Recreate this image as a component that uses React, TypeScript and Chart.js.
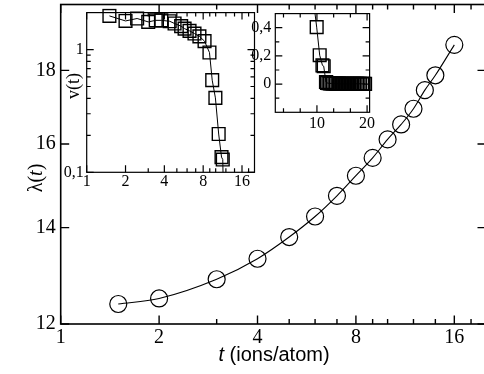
import { useEffect, useRef } from 'react';
import { Chart, registerables } from 'chart.js';

Chart.register(...registerables);

// ---- Main panel: lambda(t) ----
const LAMBDA_T = [1.5, 2, 3, 4, 5, 6, 7, 8, 9, 10, 11, 12, 13, 14, 16];
const LAMBDA = [12.39, 12.5, 12.89, 13.32, 13.79, 14.25, 14.73, 15.21, 15.65, 16.12, 16.51, 16.93, 17.44, 17.86, 18.75];
const MAIN_X_TICKS = [1, 2, 4, 8, 16];
const MAIN_X_MINOR = [3, 5, 6, 7, 9, 10, 12, 14, 18];
const MAIN_Y_TICKS = [12, 14, 16, 18];

// ---- Insets: v(t) ----
const V_T = [
  1.5, 2.0, 2.46, 3.0, 3.43, 3.79, 4.4, 4.8, 5.4, 5.74, 6.27, 6.85, 7.48, 8.2, 8.95, 9.4, 9.95, 10.55, 11.1, 11.35,
  11.8, 12.0, 12.3, 12.6, 12.9, 13.2, 13.5, 13.8, 14.1, 14.4, 14.7, 15.0, 15.3, 15.6, 15.9, 16.2, 16.5, 16.8, 17.1,
  17.4, 17.7, 18.0, 18.3, 18.6, 19.0, 19.3, 19.6,
];
const V = [
  1.88, 1.71, 1.79, 1.68, 1.73, 1.73, 1.7, 1.63, 1.55, 1.48, 1.42, 1.35, 1.28, 1.17, 0.946, 0.563, 0.404, 0.205, 0.133, 0.127,
  0.015, 0.009, 0.006, 0.005, 0.005, 0.004, 0.004, 0.003, 0.003, 0.003, 0.002, 0.002, 0.002, 0.002, 0.002, 0.002, 0.002, 0.002, 0.002,
  0.002, 0.002, 0.002, 0.002, 0.002, 0.002, 0.002, 0.002,
];
const IN1_X_TICKS = [1, 2, 4, 8, 16];
const IN1_X_MINOR = [3, 5, 6, 7, 9, 10, 12, 14, 18];
const IN1_Y_TICKS = [0.1, 1];
const IN1_Y_MINOR = [0.2, 0.3, 0.4, 0.5, 0.6, 0.7, 0.8, 0.9];
const IN2_X_TICKS = [10, 20];
const IN2_X_MINOR = [10 / 3, 20 / 3, 40 / 3, 50 / 3];
const IN2_Y_TICKS = [0, 0.2, 0.4];
const IN2_Y_MINOR = [-0.1, 0.1, 0.3];

const SERIF = '"Liberation Serif", "Times New Roman", serif';
const SANS = '"Liberation Sans", Arial, sans-serif';

// main canvas is shifted up so Chart.js label padding does not push the frame down
const MAIN_OFFSET_Y = -20;

type FrameCfg = {
  xMajor: number[];
  xMinor: number[];
  yMajor: number[];
  yMinor: number[];
  major: number;
  minor: number;
  lw: number;
  tw: number;
};

type Part = { text: string; font: string };

function drawRich(ctx: CanvasRenderingContext2D, parts: Part[], cx: number, by: number, angle: number) {
  ctx.save();
  ctx.translate(cx, by);
  ctx.rotate(angle);
  let total = 0;
  const widths = parts.map((p) => {
    ctx.font = p.font;
    const w = ctx.measureText(p.text).width;
    total += w;
    return w;
  });
  let x = -total / 2;
  ctx.textBaseline = 'alphabetic';
  ctx.textAlign = 'left';
  ctx.fillStyle = '#000';
  parts.forEach((p, i) => {
    ctx.font = p.font;
    ctx.fillText(p.text, x, 0);
    x += widths[i];
  });
  ctx.restore();
}

function framePlugin(id: string, a: FrameCfg, extra?: (chart: any) => void) {
  return {
    id,
    afterDatasetsDraw(chart: any) {
      const ctx: CanvasRenderingContext2D = chart.ctx;
      const { left, right, top, bottom } = chart.chartArea;
      const xs = chart.scales.x;
      const ys = chart.scales.y;
      ctx.save();
      ctx.strokeStyle = '#000';
      ctx.lineWidth = a.tw;
      ctx.beginPath();
      const vx = (vals: number[], len: number) =>
        vals.forEach((v) => {
          const p = xs.getPixelForValue(v);
          ctx.moveTo(p, bottom);
          ctx.lineTo(p, bottom - len);
          ctx.moveTo(p, top);
          ctx.lineTo(p, top + len);
        });
      const vy = (vals: number[], len: number) =>
        vals.forEach((v) => {
          const p = ys.getPixelForValue(v);
          ctx.moveTo(left, p);
          ctx.lineTo(left + len, p);
          ctx.moveTo(right, p);
          ctx.lineTo(right - len, p);
        });
      vx(a.xMajor, a.major);
      vx(a.xMinor, a.minor);
      vy(a.yMajor, a.major);
      vy(a.yMinor, a.minor);
      ctx.stroke();
      ctx.lineWidth = a.lw;
      ctx.strokeRect(left, top, right - left, bottom - top);
      ctx.restore();
      if (extra) extra(chart);
    },
  };
}

function tickOpts(size: number, padding: number, cb: (v: number) => string) {
  return {
    callback: (v: any) => cb(Number(v)),
    font: { family: SERIF, size },
    color: '#000',
    padding,
    autoSkip: false,
    maxRotation: 0,
    minRotation: 0,
  };
}

function setTicks(vals: number[]) {
  return (s: any) => {
    s.ticks = vals.map((v) => ({ value: v }));
  };
}

const comma = (v: number) => String(Math.round(v * 1000) / 1000).replace('.', ',');

export default function App() {
  const mainRef = useRef<HTMLCanvasElement>(null);
  const in1Ref = useRef<HTMLCanvasElement>(null);
  const in2Ref = useRef<HTMLCanvasElement>(null);

  useEffect(() => {
    const charts: Chart[] = [];
    const vPoints = V_T.map((t, i) => ({ x: t, y: V[i] }));

    charts.push(
      new Chart(mainRef.current!, {
        type: 'line',
        data: {
          datasets: [
            {
              data: LAMBDA_T.map((t, i) => ({ x: t, y: LAMBDA[i] })),
              borderColor: '#000',
              borderWidth: 1.1,
              pointRadius: 8.5,
              pointStyle: 'circle',
              pointBorderColor: '#000',
              pointBackgroundColor: 'rgba(0,0,0,0)',
              pointBorderWidth: 1.2,
              cubicInterpolationMode: 'monotone',
              fill: false,
            },
          ],
        },
        options: {
          responsive: false,
          animation: false,
          devicePixelRatio: 1,
          events: [],
          layout: { padding: { left: 0, top: 4.5 - MAIN_OFFSET_Y, right: 14, bottom: 0 } },
          plugins: { legend: { display: false }, tooltip: { enabled: false } },
          scales: {
            x: {
              type: 'logarithmic',
              min: 1,
              max: 20,
              afterFit: (s: any) => {
                s.height = 50;
              },
              afterBuildTicks: setTicks(MAIN_X_TICKS),
              grid: { display: false, drawTicks: false },
              border: { display: false },
              ticks: tickOpts(20, 2, (v) => String(v)),
            },
            y: {
              type: 'logarithmic',
              min: 12,
              max: 20,
              afterFit: (s: any) => {
                s.width = 60.7;
              },
              afterBuildTicks: setTicks(MAIN_Y_TICKS),
              grid: { display: false, drawTicks: false },
              border: { display: false },
              ticks: tickOpts(20, 5, (v) => String(v)),
            },
          },
        } as any,
        plugins: [
          framePlugin(
            'mainFrame',
            { xMajor: MAIN_X_TICKS, xMinor: MAIN_X_MINOR, yMajor: MAIN_Y_TICKS, yMinor: [], major: 8.5, minor: 5, lw: 1.6, tw: 1.4 },
            (chart) => {
              const ctx = chart.ctx as CanvasRenderingContext2D;
              drawRich(
                ctx,
                [
                  { text: 't', font: `italic 20px ${SANS}` },
                  { text: ' (ions/atom)', font: `20px ${SANS}` },
                ],
                274,
                361 - MAIN_OFFSET_Y,
                0
              );
              drawRich(
                ctx,
                [
                  { text: 'λ(', font: `20px ${SERIF}` },
                  { text: 't', font: `italic 20px ${SERIF}` },
                  { text: ')', font: `20px ${SERIF}` },
                ],
                41.5,
                178 - MAIN_OFFSET_Y,
                -Math.PI / 2
              );
            }
          ),
        ],
      } as any)
    );

    charts.push(
      new Chart(in1Ref.current!, {
        type: 'line',
        data: {
          datasets: [
            {
              data: vPoints,
              borderColor: '#000',
              borderWidth: 1,
              pointRadius: 9,
              pointStyle: 'rect',
              pointBorderColor: '#000',
              pointBackgroundColor: 'rgba(0,0,0,0)',
              pointBorderWidth: 1.4,
              tension: 0,
              fill: false,
              clip: { left: 4, top: 4, right: 4, bottom: 0 },
            },
          ],
        },
        options: {
          responsive: false,
          animation: false,
          devicePixelRatio: 1,
          events: [],
          layout: { padding: { left: 0, top: 11, right: 10.5, bottom: 0 } },
          plugins: { legend: { display: false }, tooltip: { enabled: false } },
          scales: {
            x: {
              type: 'logarithmic',
              min: 1,
              max: 20,
              afterFit: (s: any) => {
                s.height = 27.7;
              },
              afterBuildTicks: setTicks(IN1_X_TICKS),
              grid: { display: false, drawTicks: false },
              border: { display: false },
              ticks: tickOpts(16, 0, (v) => String(v)),
            },
            y: {
              type: 'logarithmic',
              min: 0.1,
              max: 2,
              afterFit: (s: any) => {
                s.width = 31.7;
              },
              afterBuildTicks: setTicks(IN1_Y_TICKS),
              grid: { display: false, drawTicks: false },
              border: { display: false },
              ticks: tickOpts(16, 3, comma),
            },
          },
        } as any,
        plugins: [
          framePlugin(
            'in1Frame',
            { xMajor: IN1_X_TICKS, xMinor: IN1_X_MINOR, yMajor: IN1_Y_TICKS, yMinor: IN1_Y_MINOR, major: 7, minor: 4, lw: 1.2, tw: 1.2 },
            (chart) => {
              drawRich(chart.ctx, [{ text: 'v(t)', font: `18px ${SERIF}` }], 78.5 - 55, 86, -Math.PI / 2);
            }
          ),
        ],
      } as any)
    );

    charts.push(
      new Chart(in2Ref.current!, {
        type: 'line',
        data: {
          datasets: [
            {
              data: vPoints,
              borderColor: '#000',
              borderWidth: 1,
              pointRadius: 9,
              pointStyle: 'rect',
              pointBorderColor: '#000',
              pointBackgroundColor: 'rgba(0,0,0,0)',
              pointBorderWidth: 1.4,
              tension: 0,
              fill: false,
              clip: { left: 0, top: 0, right: 4, bottom: 0 },
            },
          ],
        },
        options: {
          responsive: false,
          animation: false,
          devicePixelRatio: 1,
          events: [],
          layout: { padding: { left: 0, top: 13.3, right: 10.3, bottom: 0 } },
          plugins: { legend: { display: false }, tooltip: { enabled: false } },
          scales: {
            x: {
              type: 'linear',
              min: 1.7,
              max: 20.5,
              afterFit: (s: any) => {
                s.height = 27.7;
              },
              afterBuildTicks: setTicks(IN2_X_TICKS),
              grid: { display: false, drawTicks: false },
              border: { display: false },
              ticks: tickOpts(16, 1.4, (v) => String(v)),
            },
            y: {
              type: 'linear',
              min: -0.2,
              max: 0.5,
              afterFit: (s: any) => {
                s.width = 35.3;
              },
              afterBuildTicks: setTicks(IN2_Y_TICKS),
              grid: { display: false, drawTicks: false },
              border: { display: false },
              ticks: tickOpts(16, 4, comma),
            },
          },
        } as any,
        plugins: [
          framePlugin('in2Frame', {
            xMajor: IN2_X_TICKS,
            xMinor: IN2_X_MINOR,
            yMajor: IN2_Y_TICKS,
            yMinor: IN2_Y_MINOR,
            major: 7,
            minor: 4,
            lw: 1.2,
            tw: 1.2,
          }),
        ],
      } as any)
    );

    return () => charts.forEach((c) => c.destroy());
  }, []);

  return (
    <div
      style={{
        position: 'absolute',
        left: 0,
        top: 0,
        width: 484,
        height: 374,
        overflow: 'hidden',
        background: '#fff',
      }}
    >
      <div style={{ position: 'absolute', left: 0, top: MAIN_OFFSET_Y, width: 500, height: 374 - MAIN_OFFSET_Y }}>
        <canvas ref={mainRef} width={500} height={374 - MAIN_OFFSET_Y} />
      </div>
      <div style={{ position: 'absolute', left: 55, top: 0, width: 210, height: 200 }}>
        <canvas ref={in1Ref} width={210} height={200} />
      </div>
      <div style={{ position: 'absolute', left: 240, top: 0, width: 140, height: 140 }}>
        <canvas ref={in2Ref} width={140} height={140} />
      </div>
    </div>
  );
}
